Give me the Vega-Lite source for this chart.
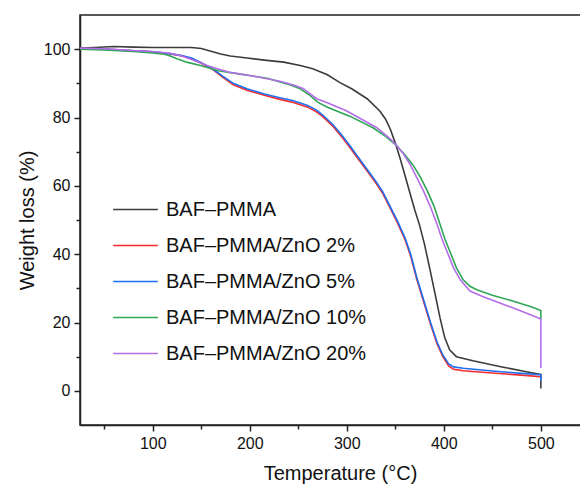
{
  "$schema": "https://vega.github.io/schema/vega-lite/v6.json",
  "autosize": {"type": "none"},
  "padding": {"left": 80, "top": 15, "right": 0, "bottom": 63},
  "width": 520,
  "height": 410,
  "background": "white",
  "config": {
    "font": "Liberation Sans",
    "view": {"stroke": "#222222", "strokeWidth": 1.5}
  },
  "datasets": {
    "tga": [
      {"s": "BAF–PMMA", "T": 25, "W": 100.3}, {"s": "BAF–PMMA", "T": 40, "W": 100.5}, {"s": "BAF–PMMA", "T": 60, "W": 100.8}, {"s": "BAF–PMMA", "T": 80, "W": 100.6}, {"s": "BAF–PMMA", "T": 100, "W": 100.5}, {"s": "BAF–PMMA", "T": 120, "W": 100.5}, {"s": "BAF–PMMA", "T": 140, "W": 100.5}, {"s": "BAF–PMMA", "T": 150, "W": 100.2}, {"s": "BAF–PMMA", "T": 160, "W": 99.4}, {"s": "BAF–PMMA", "T": 170, "W": 98.6}, {"s": "BAF–PMMA", "T": 180, "W": 98.0}, {"s": "BAF–PMMA", "T": 195, "W": 97.5}, {"s": "BAF–PMMA", "T": 215, "W": 96.8}, {"s": "BAF–PMMA", "T": 235, "W": 96.2}, {"s": "BAF–PMMA", "T": 252, "W": 95.2}, {"s": "BAF–PMMA", "T": 265, "W": 94.3}, {"s": "BAF–PMMA", "T": 280, "W": 92.5}, {"s": "BAF–PMMA", "T": 293, "W": 90.2}, {"s": "BAF–PMMA", "T": 305, "W": 88.4}, {"s": "BAF–PMMA", "T": 321, "W": 85.5}, {"s": "BAF–PMMA", "T": 334, "W": 81.9}, {"s": "BAF–PMMA", "T": 340, "W": 79.5}, {"s": "BAF–PMMA", "T": 345, "W": 76.5}, {"s": "BAF–PMMA", "T": 350, "W": 72.5}, {"s": "BAF–PMMA", "T": 355, "W": 68}, {"s": "BAF–PMMA", "T": 360, "W": 63}, {"s": "BAF–PMMA", "T": 365, "W": 58}, {"s": "BAF–PMMA", "T": 370, "W": 53}, {"s": "BAF–PMMA", "T": 375, "W": 48.5}, {"s": "BAF–PMMA", "T": 380, "W": 43}, {"s": "BAF–PMMA", "T": 385, "W": 36.5}, {"s": "BAF–PMMA", "T": 391, "W": 28.4}, {"s": "BAF–PMMA", "T": 396, "W": 21.5}, {"s": "BAF–PMMA", "T": 401, "W": 15.5}, {"s": "BAF–PMMA", "T": 406, "W": 12}, {"s": "BAF–PMMA", "T": 413, "W": 10}, {"s": "BAF–PMMA", "T": 430, "W": 8.8}, {"s": "BAF–PMMA", "T": 460, "W": 7}, {"s": "BAF–PMMA", "T": 485, "W": 5.6}, {"s": "BAF–PMMA", "T": 500, "W": 4.8}, {"s": "BAF–PMMA", "T": 500, "W": 0.7},

      {"s": "BAF–PMMA/ZnO 2%", "T": 25, "W": 100.2}, {"s": "BAF–PMMA/ZnO 2%", "T": 50, "W": 100}, {"s": "BAF–PMMA/ZnO 2%", "T": 80, "W": 99.5}, {"s": "BAF–PMMA/ZnO 2%", "T": 100, "W": 99.2}, {"s": "BAF–PMMA/ZnO 2%", "T": 118, "W": 98.6}, {"s": "BAF–PMMA/ZnO 2%", "T": 130, "W": 98}, {"s": "BAF–PMMA/ZnO 2%", "T": 140, "W": 97.2}, {"s": "BAF–PMMA/ZnO 2%", "T": 149, "W": 96}, {"s": "BAF–PMMA/ZnO 2%", "T": 162, "W": 94}, {"s": "BAF–PMMA/ZnO 2%", "T": 172, "W": 91.8}, {"s": "BAF–PMMA/ZnO 2%", "T": 183, "W": 89.6}, {"s": "BAF–PMMA/ZnO 2%", "T": 197, "W": 88}, {"s": "BAF–PMMA/ZnO 2%", "T": 215, "W": 86.5}, {"s": "BAF–PMMA/ZnO 2%", "T": 231, "W": 85.3}, {"s": "BAF–PMMA/ZnO 2%", "T": 245, "W": 84.4}, {"s": "BAF–PMMA/ZnO 2%", "T": 259, "W": 83.1}, {"s": "BAF–PMMA/ZnO 2%", "T": 268, "W": 81.8}, {"s": "BAF–PMMA/ZnO 2%", "T": 275, "W": 80.3}, {"s": "BAF–PMMA/ZnO 2%", "T": 286, "W": 77.3}, {"s": "BAF–PMMA/ZnO 2%", "T": 295, "W": 74.3}, {"s": "BAF–PMMA/ZnO 2%", "T": 303, "W": 71.3}, {"s": "BAF–PMMA/ZnO 2%", "T": 312, "W": 67.8}, {"s": "BAF–PMMA/ZnO 2%", "T": 321, "W": 64.3}, {"s": "BAF–PMMA/ZnO 2%", "T": 330, "W": 60.8}, {"s": "BAF–PMMA/ZnO 2%", "T": 337, "W": 57.8}, {"s": "BAF–PMMA/ZnO 2%", "T": 345, "W": 53.3}, {"s": "BAF–PMMA/ZnO 2%", "T": 352, "W": 49.3}, {"s": "BAF–PMMA/ZnO 2%", "T": 360, "W": 44.3}, {"s": "BAF–PMMA/ZnO 2%", "T": 366, "W": 39.3}, {"s": "BAF–PMMA/ZnO 2%", "T": 372, "W": 32.8}, {"s": "BAF–PMMA/ZnO 2%", "T": 379, "W": 26.3}, {"s": "BAF–PMMA/ZnO 2%", "T": 386, "W": 19.8}, {"s": "BAF–PMMA/ZnO 2%", "T": 393, "W": 13.8}, {"s": "BAF–PMMA/ZnO 2%", "T": 399, "W": 10}, {"s": "BAF–PMMA/ZnO 2%", "T": 405, "W": 7.3}, {"s": "BAF–PMMA/ZnO 2%", "T": 410, "W": 6.3}, {"s": "BAF–PMMA/ZnO 2%", "T": 420, "W": 5.9}, {"s": "BAF–PMMA/ZnO 2%", "T": 450, "W": 5.2}, {"s": "BAF–PMMA/ZnO 2%", "T": 480, "W": 4.6}, {"s": "BAF–PMMA/ZnO 2%", "T": 500, "W": 4.1}, {"s": "BAF–PMMA/ZnO 2%", "T": 500, "W": 3.6},

      {"s": "BAF–PMMA/ZnO 5%", "T": 25, "W": 100.2}, {"s": "BAF–PMMA/ZnO 5%", "T": 50, "W": 100}, {"s": "BAF–PMMA/ZnO 5%", "T": 80, "W": 99.5}, {"s": "BAF–PMMA/ZnO 5%", "T": 100, "W": 99.2}, {"s": "BAF–PMMA/ZnO 5%", "T": 118, "W": 98.7}, {"s": "BAF–PMMA/ZnO 5%", "T": 130, "W": 98.1}, {"s": "BAF–PMMA/ZnO 5%", "T": 140, "W": 97.4}, {"s": "BAF–PMMA/ZnO 5%", "T": 149, "W": 96.2}, {"s": "BAF–PMMA/ZnO 5%", "T": 162, "W": 94.2}, {"s": "BAF–PMMA/ZnO 5%", "T": 172, "W": 92.1}, {"s": "BAF–PMMA/ZnO 5%", "T": 183, "W": 90}, {"s": "BAF–PMMA/ZnO 5%", "T": 197, "W": 88.4}, {"s": "BAF–PMMA/ZnO 5%", "T": 215, "W": 86.9}, {"s": "BAF–PMMA/ZnO 5%", "T": 231, "W": 85.8}, {"s": "BAF–PMMA/ZnO 5%", "T": 245, "W": 84.9}, {"s": "BAF–PMMA/ZnO 5%", "T": 259, "W": 83.6}, {"s": "BAF–PMMA/ZnO 5%", "T": 268, "W": 82.3}, {"s": "BAF–PMMA/ZnO 5%", "T": 275, "W": 80.8}, {"s": "BAF–PMMA/ZnO 5%", "T": 286, "W": 77.8}, {"s": "BAF–PMMA/ZnO 5%", "T": 295, "W": 74.8}, {"s": "BAF–PMMA/ZnO 5%", "T": 303, "W": 71.8}, {"s": "BAF–PMMA/ZnO 5%", "T": 312, "W": 68.3}, {"s": "BAF–PMMA/ZnO 5%", "T": 321, "W": 64.8}, {"s": "BAF–PMMA/ZnO 5%", "T": 330, "W": 61.3}, {"s": "BAF–PMMA/ZnO 5%", "T": 337, "W": 58.3}, {"s": "BAF–PMMA/ZnO 5%", "T": 345, "W": 53.8}, {"s": "BAF–PMMA/ZnO 5%", "T": 352, "W": 49.8}, {"s": "BAF–PMMA/ZnO 5%", "T": 360, "W": 44.8}, {"s": "BAF–PMMA/ZnO 5%", "T": 366, "W": 39.8}, {"s": "BAF–PMMA/ZnO 5%", "T": 372, "W": 33.3}, {"s": "BAF–PMMA/ZnO 5%", "T": 379, "W": 26.8}, {"s": "BAF–PMMA/ZnO 5%", "T": 386, "W": 20.3}, {"s": "BAF–PMMA/ZnO 5%", "T": 393, "W": 14.3}, {"s": "BAF–PMMA/ZnO 5%", "T": 399, "W": 10.5}, {"s": "BAF–PMMA/ZnO 5%", "T": 405, "W": 7.9}, {"s": "BAF–PMMA/ZnO 5%", "T": 410, "W": 7}, {"s": "BAF–PMMA/ZnO 5%", "T": 420, "W": 6.6}, {"s": "BAF–PMMA/ZnO 5%", "T": 450, "W": 5.8}, {"s": "BAF–PMMA/ZnO 5%", "T": 480, "W": 5.1}, {"s": "BAF–PMMA/ZnO 5%", "T": 500, "W": 4.7}, {"s": "BAF–PMMA/ZnO 5%", "T": 500, "W": 2.9},

      {"s": "BAF–PMMA/ZnO 10%", "T": 25, "W": 100}, {"s": "BAF–PMMA/ZnO 10%", "T": 50, "W": 99.8}, {"s": "BAF–PMMA/ZnO 10%", "T": 80, "W": 99.3}, {"s": "BAF–PMMA/ZnO 10%", "T": 100, "W": 98.9}, {"s": "BAF–PMMA/ZnO 10%", "T": 112, "W": 98.5}, {"s": "BAF–PMMA/ZnO 10%", "T": 118, "W": 98}, {"s": "BAF–PMMA/ZnO 10%", "T": 125, "W": 97.2}, {"s": "BAF–PMMA/ZnO 10%", "T": 135, "W": 96.2}, {"s": "BAF–PMMA/ZnO 10%", "T": 149, "W": 95.2}, {"s": "BAF–PMMA/ZnO 10%", "T": 169, "W": 93.6}, {"s": "BAF–PMMA/ZnO 10%", "T": 190, "W": 92.7}, {"s": "BAF–PMMA/ZnO 10%", "T": 218, "W": 91.5}, {"s": "BAF–PMMA/ZnO 10%", "T": 240, "W": 89.7}, {"s": "BAF–PMMA/ZnO 10%", "T": 252, "W": 88.4}, {"s": "BAF–PMMA/ZnO 10%", "T": 262, "W": 86.5}, {"s": "BAF–PMMA/ZnO 10%", "T": 270, "W": 84.5}, {"s": "BAF–PMMA/ZnO 10%", "T": 280, "W": 83}, {"s": "BAF–PMMA/ZnO 10%", "T": 303, "W": 80.4}, {"s": "BAF–PMMA/ZnO 10%", "T": 327, "W": 77}, {"s": "BAF–PMMA/ZnO 10%", "T": 340, "W": 74.5}, {"s": "BAF–PMMA/ZnO 10%", "T": 352, "W": 71.6}, {"s": "BAF–PMMA/ZnO 10%", "T": 360, "W": 69}, {"s": "BAF–PMMA/ZnO 10%", "T": 368, "W": 66.2}, {"s": "BAF–PMMA/ZnO 10%", "T": 376, "W": 62.5}, {"s": "BAF–PMMA/ZnO 10%", "T": 383, "W": 58.5}, {"s": "BAF–PMMA/ZnO 10%", "T": 390, "W": 54}, {"s": "BAF–PMMA/ZnO 10%", "T": 396, "W": 48.8}, {"s": "BAF–PMMA/ZnO 10%", "T": 401, "W": 44.5}, {"s": "BAF–PMMA/ZnO 10%", "T": 406, "W": 41}, {"s": "BAF–PMMA/ZnO 10%", "T": 413, "W": 36}, {"s": "BAF–PMMA/ZnO 10%", "T": 420, "W": 32.5}, {"s": "BAF–PMMA/ZnO 10%", "T": 427, "W": 30.6}, {"s": "BAF–PMMA/ZnO 10%", "T": 434, "W": 29.6}, {"s": "BAF–PMMA/ZnO 10%", "T": 450, "W": 28}, {"s": "BAF–PMMA/ZnO 10%", "T": 471, "W": 26.3}, {"s": "BAF–PMMA/ZnO 10%", "T": 490, "W": 24.6}, {"s": "BAF–PMMA/ZnO 10%", "T": 500, "W": 23.5}, {"s": "BAF–PMMA/ZnO 10%", "T": 500, "W": 21},

      {"s": "BAF–PMMA/ZnO 20%", "T": 25, "W": 100.3}, {"s": "BAF–PMMA/ZnO 20%", "T": 50, "W": 100.1}, {"s": "BAF–PMMA/ZnO 20%", "T": 80, "W": 99.6}, {"s": "BAF–PMMA/ZnO 20%", "T": 100, "W": 99.3}, {"s": "BAF–PMMA/ZnO 20%", "T": 118, "W": 98.8}, {"s": "BAF–PMMA/ZnO 20%", "T": 130, "W": 98}, {"s": "BAF–PMMA/ZnO 20%", "T": 140, "W": 97}, {"s": "BAF–PMMA/ZnO 20%", "T": 149, "W": 96}, {"s": "BAF–PMMA/ZnO 20%", "T": 156, "W": 95.2}, {"s": "BAF–PMMA/ZnO 20%", "T": 170, "W": 94}, {"s": "BAF–PMMA/ZnO 20%", "T": 180, "W": 93.2}, {"s": "BAF–PMMA/ZnO 20%", "T": 200, "W": 92.3}, {"s": "BAF–PMMA/ZnO 20%", "T": 231, "W": 90.6}, {"s": "BAF–PMMA/ZnO 20%", "T": 245, "W": 89.5}, {"s": "BAF–PMMA/ZnO 20%", "T": 255, "W": 88.5}, {"s": "BAF–PMMA/ZnO 20%", "T": 262, "W": 87}, {"s": "BAF–PMMA/ZnO 20%", "T": 269, "W": 85.5}, {"s": "BAF–PMMA/ZnO 20%", "T": 280, "W": 84.3}, {"s": "BAF–PMMA/ZnO 20%", "T": 300, "W": 81.9}, {"s": "BAF–PMMA/ZnO 20%", "T": 331, "W": 77}, {"s": "BAF–PMMA/ZnO 20%", "T": 345, "W": 73.7}, {"s": "BAF–PMMA/ZnO 20%", "T": 352, "W": 71.6}, {"s": "BAF–PMMA/ZnO 20%", "T": 358, "W": 69.5}, {"s": "BAF–PMMA/ZnO 20%", "T": 365, "W": 66.4}, {"s": "BAF–PMMA/ZnO 20%", "T": 372, "W": 62.5}, {"s": "BAF–PMMA/ZnO 20%", "T": 379, "W": 58.5}, {"s": "BAF–PMMA/ZnO 20%", "T": 386, "W": 54}, {"s": "BAF–PMMA/ZnO 20%", "T": 393, "W": 48.8}, {"s": "BAF–PMMA/ZnO 20%", "T": 398, "W": 44.5}, {"s": "BAF–PMMA/ZnO 20%", "T": 403, "W": 41}, {"s": "BAF–PMMA/ZnO 20%", "T": 410, "W": 36}, {"s": "BAF–PMMA/ZnO 20%", "T": 417, "W": 32.5}, {"s": "BAF–PMMA/ZnO 20%", "T": 427, "W": 29.2}, {"s": "BAF–PMMA/ZnO 20%", "T": 440, "W": 27.6}, {"s": "BAF–PMMA/ZnO 20%", "T": 455, "W": 26}, {"s": "BAF–PMMA/ZnO 20%", "T": 471, "W": 24.3}, {"s": "BAF–PMMA/ZnO 20%", "T": 490, "W": 22.2}, {"s": "BAF–PMMA/ZnO 20%", "T": 500, "W": 21}, {"s": "BAF–PMMA/ZnO 20%", "T": 500, "W": 6.7}
    ]
  },
  "data": {"name": "tga"},
  "mark": {"type": "line", "strokeWidth": 1.6, "clip": true},
  "encoding": {
    "x": {
      "field": "T", "type": "quantitative", "sort": null,
      "scale": {"domain": [25, 561], "nice": false, "zero": false},
      "axis": {
        "title": "Temperature (°C)",
        "values": [50, 100, 150, 200, 250, 300, 350, 400, 450, 500, 550],
        "labelExpr": "datum.value % 100 === 0 ? datum.label : ''",
        "grid": false, "domainColor": "#222222", "domainWidth": 1.5,
        "tickColor": "#222222", "tickWidth": 1.5,
        "tickSize": {"condition": {"test": "datum.value % 100 === 0", "value": 6}, "value": 4},
        "labelFont": "Liberation Sans", "labelFontSize": 16, "labelColor": "#111111", "labelPadding": 4,
        "titleFont": "Liberation Sans", "titleFontSize": 20, "titleFontWeight": "normal", "titleColor": "#111111", "titlePadding": 12
      }
    },
    "y": {
      "field": "W", "type": "quantitative",
      "scale": {"domain": [-10, 110], "nice": false, "zero": false},
      "axis": {
        "title": "Weight loss (%)",
        "values": [0, 10, 20, 30, 40, 50, 60, 70, 80, 90, 100],
        "labelExpr": "datum.value % 20 === 0 ? datum.label : ''",
        "grid": false, "domainColor": "#222222", "domainWidth": 1.5,
        "tickColor": "#222222", "tickWidth": 1.5,
        "tickSize": {"condition": {"test": "datum.value % 20 === 0", "value": 6}, "value": 4},
        "labelFont": "Liberation Sans", "labelFontSize": 16, "labelColor": "#111111", "labelPadding": 4,
        "titleFont": "Liberation Sans", "titleFontSize": 20, "titleFontWeight": "normal", "titleColor": "#111111", "titlePadding": 6
      }
    },
    "color": {
      "field": "s", "type": "nominal",
      "scale": {
        "domain": ["BAF–PMMA", "BAF–PMMA/ZnO 2%", "BAF–PMMA/ZnO 5%", "BAF–PMMA/ZnO 10%", "BAF–PMMA/ZnO 20%"],
        "range": ["#3c3c3c", "#f42b2b", "#1f6ff0", "#2fa556", "#b46ee8"]
      },
      "legend": {
        "title": null, "orient": "none", "legendX": 32, "legendY": 171,
        "symbolType": "stroke", "symbolSize": 2000, "symbolStrokeWidth": 1.6,
        "labelFont": "Liberation Sans", "labelFontSize": 20, "labelColor": "#111111",
        "labelOffset": 7, "rowPadding": 2, "labelLimit": 400
      }
    }
  }
}
